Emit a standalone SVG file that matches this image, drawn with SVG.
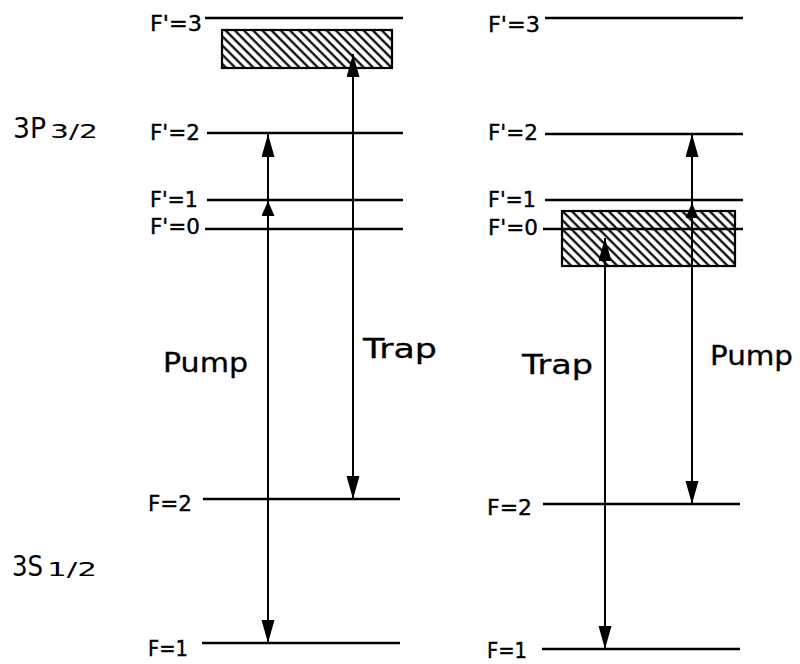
<svg xmlns="http://www.w3.org/2000/svg" width="800" height="664" viewBox="0 0 800 664">
<defs>
<style>
.lvl{stroke:#000;stroke-width:2.3;fill:none}
.arr{stroke:#000;stroke-width:2;fill:none}
.lab{font-family:"DejaVu Sans","Liberation Sans",Arial,sans-serif;font-size:22px;fill:#000;stroke:#000;stroke-width:0.4}
.big{font-family:"DejaVu Sans","Liberation Sans",Arial,sans-serif;font-size:26px;fill:#000;stroke:#000;stroke-width:0.3}
.term{font-family:"DejaVu Sans","Liberation Sans",Arial,sans-serif;font-size:28px;fill:#000}
.sub{font-size:20px}
.box{fill:url(#hatch);stroke:#000;stroke-width:2.2}
</style>
<pattern id="hatch" patternUnits="userSpaceOnUse" width="6.5" height="6.5" patternTransform="rotate(-45)">
<rect width="6.5" height="6.5" fill="#fff"/>
<line x1="1.5" y1="0" x2="1.5" y2="6.5" stroke="#000" stroke-width="2.2"/>
</pattern>
<marker id="ah" markerUnits="userSpaceOnUse" markerWidth="24" markerHeight="14" refX="23" refY="6.5" orient="auto-start-reverse">
<path d="M0,0 L23,6.5 L0,13 z" fill="#000"/>
</marker>
<marker id="ahs" markerUnits="userSpaceOnUse" markerWidth="16" markerHeight="14" refX="15" refY="6.5" orient="auto">
<path d="M0,0 L15,6.5 L0,13 z" fill="#000"/>
</marker>
</defs>
<rect width="800" height="664" fill="#fff"/>

<g id="term-3P">
<text class="term" x="13" y="138"><tspan textLength="33" lengthAdjust="spacingAndGlyphs">3P</tspan><tspan class="sub" x="50" textLength="48" lengthAdjust="spacingAndGlyphs">3/2</tspan></text>
</g>
<g id="term-3S">
<text class="term" x="12" y="576"><tspan textLength="31" lengthAdjust="spacingAndGlyphs">3S</tspan><tspan class="sub" x="47" textLength="50" lengthAdjust="spacingAndGlyphs">1/2</tspan></text>
</g>

<g id="left-levels">
<g id="L-F3p"><text class="lab" x="150" y="31" textLength="52" lengthAdjust="spacingAndGlyphs">F'=3</text><line class="lvl" x1="205" y1="18" x2="403" y2="18"/></g>
<g id="L-box"><rect class="box" x="222" y="30" width="170" height="38"/></g>
<g id="L-F2p"><text class="lab" x="150" y="140" textLength="50" lengthAdjust="spacingAndGlyphs">F'=2</text><line class="lvl" x1="207" y1="133" x2="403" y2="133"/></g>
<g id="L-F1p"><text class="lab" x="150" y="207" textLength="48" lengthAdjust="spacingAndGlyphs">F'=1</text><line class="lvl" x1="207" y1="200" x2="403" y2="200"/></g>
<g id="L-F0p"><text class="lab" x="150" y="234" textLength="50" lengthAdjust="spacingAndGlyphs">F'=0</text><line class="lvl" x1="205" y1="229" x2="403" y2="229"/></g>
<g id="L-F2"><text class="lab" x="148" y="511" textLength="44" lengthAdjust="spacingAndGlyphs">F=2</text><line class="lvl" x1="203" y1="499" x2="400" y2="499"/></g>
<g id="L-F1"><text class="lab" x="148" y="656" textLength="40" lengthAdjust="spacingAndGlyphs">F=1</text><line class="lvl" x1="202" y1="643" x2="400" y2="643"/></g>
</g>

<g id="right-levels">
<g id="R-F3p"><text class="lab" x="488" y="32" textLength="52" lengthAdjust="spacingAndGlyphs">F'=3</text><line class="lvl" x1="545" y1="18" x2="743" y2="18"/></g>
<g id="R-F2p"><text class="lab" x="488" y="140" textLength="50" lengthAdjust="spacingAndGlyphs">F'=2</text><line class="lvl" x1="545" y1="134" x2="743" y2="134"/></g>
<g id="R-F1p"><text class="lab" x="488" y="207" textLength="48" lengthAdjust="spacingAndGlyphs">F'=1</text><line class="lvl" x1="545" y1="200" x2="743" y2="200"/></g>
<g id="R-box"><rect class="box" x="562" y="211" width="173" height="55"/></g>
<g id="R-F0p"><text class="lab" x="488" y="235" textLength="50" lengthAdjust="spacingAndGlyphs">F'=0</text><line class="lvl" x1="543" y1="229" x2="743" y2="229"/></g>
<g id="R-F2"><text class="lab" x="487" y="515" textLength="45" lengthAdjust="spacingAndGlyphs">F=2</text><line class="lvl" x1="543" y1="504" x2="740" y2="504"/></g>
<g id="R-F1"><text class="lab" x="487" y="658" textLength="40" lengthAdjust="spacingAndGlyphs">F=1</text><line class="lvl" x1="542" y1="649" x2="740" y2="649"/></g>
</g>

<g id="connectors">
<path class="arr" d="M268,643 L268,201 L268,134" marker-start="url(#ah)" marker-mid="url(#ahs)" marker-end="url(#ah)"/>
<path class="arr" d="M353,499 L353,54" marker-start="url(#ah)" marker-end="url(#ah)"/>
<path class="arr" d="M605,649 L605,238" marker-start="url(#ah)" marker-end="url(#ah)"/>
<path class="arr" d="M692,504 L692,203 L692,134" marker-start="url(#ah)" marker-mid="url(#ahs)" marker-end="url(#ah)"/>
</g>

<g id="labels">
<text class="big" x="163" y="372" textLength="85" lengthAdjust="spacingAndGlyphs">Pump</text>
<text class="big" x="363" y="358" textLength="74" lengthAdjust="spacingAndGlyphs">Trap</text>
<text class="big" x="522" y="374" textLength="71" lengthAdjust="spacingAndGlyphs">Trap</text>
<text class="big" x="710" y="365" textLength="83" lengthAdjust="spacingAndGlyphs">Pump</text>
</g>
</svg>
